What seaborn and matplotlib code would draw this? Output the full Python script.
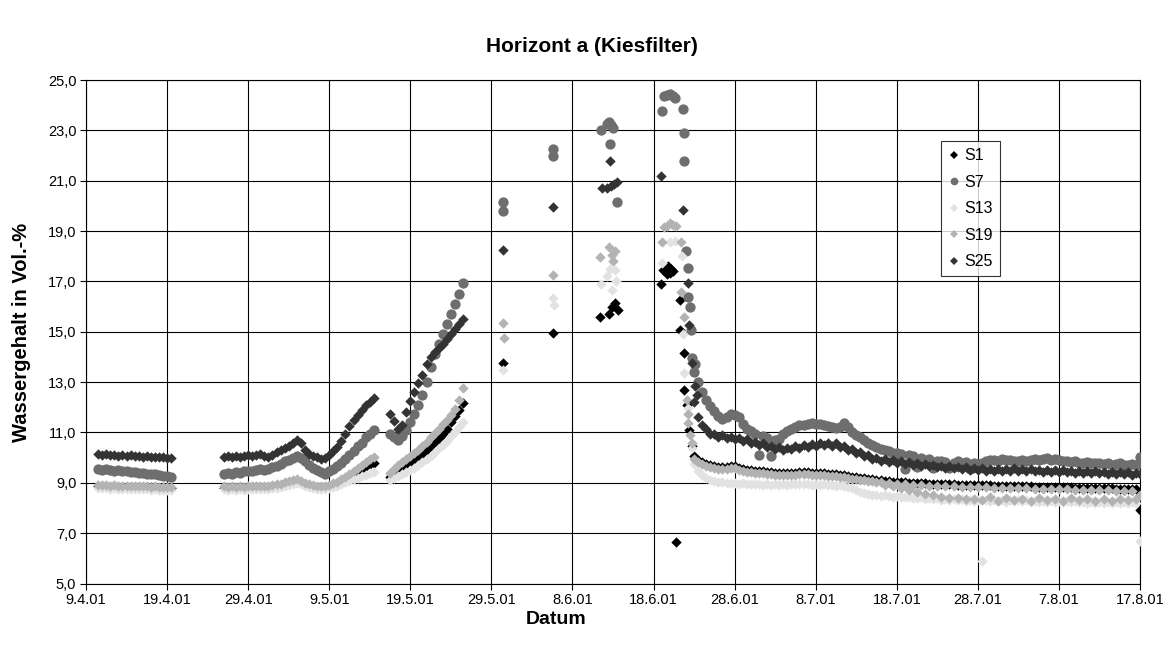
import numpy as np
import pandas as pd
import matplotlib
matplotlib.use("Agg")
import matplotlib.pyplot as plt
import matplotlib.dates as mdates
from matplotlib.lines import Line2D
from matplotlib.ticker import FuncFormatter, FixedLocator
import seaborn as sns

START = pd.Timestamp("2001-04-09")

sensors = ["S1", "S7", "S13", "S19", "S25"]
colors = {"S1": "#000000", "S7": "#6e6e6e", "S13": "#e2e2e2", "S19": "#b3b3b3", "S25": "#333333"}
markers = {"S1": "D", "S7": "o", "S13": "D", "S19": "D", "S25": "D"}
sizes = {"S1": 28, "S7": 55, "S13": 28, "S19": 28, "S25": 28}

# Logging periods: first reading (days after 9.4.01), half-day interval
start_a, start_b, start_c, start_d = 1.5, 17.0, 37.5, 75.0
step = 0.5

# --- period a: 10.4. - 19.4. ---
s1_a = [8.86, 8.85, 8.86, 8.84, 8.85, 8.83, 8.84, 8.83, 8.83, 8.82, 8.83, 8.82, 8.81, 8.82, 8.80, 8.81, 8.80, 8.80, 8.79]
s7_a = [9.55, 9.52, 9.54, 9.50, 9.48, 9.50, 9.45, 9.47, 9.42, 9.44, 9.38, 9.40, 9.36, 9.33, 9.35, 9.30, 9.28, 9.27, 9.25]
s13_a = [8.80, 8.78, 8.79, 8.77, 8.78, 8.76, 8.77, 8.75, 8.76, 8.75, 8.74, 8.76, 8.74, 8.73, 8.74, 8.72, 8.73, 8.72, 8.71]
s19_a = [8.92, 8.90, 8.91, 8.89, 8.90, 8.88, 8.89, 8.87, 8.88, 8.87, 8.86, 8.88, 8.86, 8.85, 8.87, 8.85, 8.84, 8.85, 8.84]
s25_a = [10.14, 10.12, 10.15, 10.10, 10.12, 10.08, 10.10, 10.07, 10.09, 10.05, 10.07, 10.04, 10.06, 10.03, 10.04, 10.01, 10.02, 9.99, 9.98]

# --- period b: 26.4. - 14.5. ---
s1_b = [8.80, 8.79, 8.81, 8.80, 8.81, 8.79, 8.82, 8.81, 8.83, 8.81,
        8.84, 8.83, 8.85, 8.88, 8.92, 8.96, 9.00, 9.05, 9.09, 9.03,
        8.95, 8.89, 8.85, 8.83, 8.81, 8.82, 8.87, 8.92, 8.99, 9.07,
        9.16, 9.26, 9.36, 9.46, 9.56, 9.65, 9.73, 9.80]
s7_b = [9.35, 9.38, 9.36, 9.42, 9.40, 9.46, 9.48, 9.45, 9.52, 9.55,
        9.50, 9.56, 9.62, 9.68, 9.75, 9.85, 9.92, 10.00, 10.06, 9.98,
        9.85, 9.72, 9.60, 9.52, 9.42, 9.36, 9.45, 9.55, 9.68, 9.80,
        9.95, 10.10, 10.25, 10.45, 10.60, 10.80, 10.95, 11.10]
s13_b = [8.74, 8.72, 8.75, 8.73, 8.74, 8.72, 8.75, 8.74, 8.76, 8.74,
         8.77, 8.76, 8.78, 8.81, 8.84, 8.88, 8.92, 8.96, 9.00, 8.95,
         8.88, 8.82, 8.78, 8.76, 8.74, 8.75, 8.79, 8.84, 8.89, 8.95,
         9.02, 9.08, 9.14, 9.20, 9.26, 9.32, 9.38, 9.42]
s19_b = [8.86, 8.84, 8.87, 8.85, 8.86, 8.84, 8.87, 8.86, 8.88, 8.86,
         8.89, 8.88, 8.90, 8.94, 8.97, 9.02, 9.06, 9.10, 9.14, 9.08,
         9.00, 8.94, 8.90, 8.88, 8.86, 8.87, 8.92, 8.98, 9.05, 9.14,
         9.24, 9.35, 9.46, 9.58, 9.70, 9.82, 9.93, 10.02]
s25_b = [10.02, 10.05, 10.03, 10.06, 10.04, 10.08, 10.10, 10.07, 10.12, 10.14,
         10.08, 10.04, 10.10, 10.22, 10.30, 10.38, 10.48, 10.60, 10.70, 10.58,
         10.32, 10.15, 10.06, 10.02, 9.96, 9.98, 10.10, 10.25, 10.42, 10.65,
         10.95, 11.25, 11.50, 11.70, 11.90, 12.08, 12.22, 12.35]

# --- period c: 16.5. - 25.5. ---
s1_c = [9.25, 9.35, 9.45, 9.55, 9.66, 9.78, 9.90, 10.02, 10.15, 10.30, 10.45, 10.60, 10.78, 10.95, 11.15, 11.40, 11.65, 11.90, 12.15]
s7_c = [10.95, 10.80, 10.70, 10.85, 11.10, 11.40, 11.75, 12.10, 12.50, 13.00, 13.60, 14.10, 14.50, 14.90, 15.30, 15.70, 16.10, 16.50, 16.95]
s13_c = [9.10, 9.20, 9.28, 9.35, 9.42, 9.50, 9.60, 9.70, 9.82, 9.95, 10.08, 10.22, 10.38, 10.52, 10.68, 10.85, 11.02, 11.20, 11.40]
s19_c = [9.40, 9.55, 9.70, 9.82, 9.95, 10.05, 10.18, 10.30, 10.45, 10.62, 10.80, 10.98, 11.15, 11.32, 11.50, 11.70, 11.95, 12.30, 12.75]
s25_c = [11.75, 11.45, 11.15, 11.30, 11.80, 12.25, 12.60, 12.95, 13.30, 13.70, 14.00, 14.20, 14.35, 14.50, 14.70, 14.90, 15.10, 15.30, 15.50]

# --- period d: 23.6. - 17.8. ---
s1_d = [10.05, 9.92, 9.82, 9.76, 9.72, 9.68, 9.64, 9.62, 9.64, 9.66,
        9.65, 9.60, 9.55, 9.52, 9.50, 9.48, 9.46, 9.45, 9.44, 9.42,
        9.40, 9.38, 9.38, 9.37, 9.38, 9.40, 9.42, 9.43, 9.42, 9.40,
        9.40, 9.38, 9.38, 9.36, 9.35, 9.34, 9.32, 9.30, 9.27, 9.24,
        9.22, 9.20, 9.18, 9.16, 9.14, 9.12, 9.10, 9.08, 9.07, 9.05,
        9.04, 9.03, 9.02, 9.00, 9.00, 8.99, 8.98, 8.98, 8.97, 8.96,
        8.96, 8.95, 8.95, 8.94, 8.94, 8.93, 8.93, 8.92, 8.92, 8.91,
        8.91, 8.90, 8.90, 8.90, 8.89, 8.89, 8.88, 8.88, 8.88, 8.87,
        8.87, 8.86, 8.86, 8.86, 8.85, 8.85, 8.84, 8.84, 8.84, 8.83,
        8.83, 8.82, 8.82, 8.82, 8.81, 8.81, 8.80, 8.80, 8.80, 8.79,
        8.79, 8.78, 8.78, 8.78, 8.77, 8.77, 8.76, 8.76, 8.75, 8.75, 7.92]
s7_d = [13.40, 13.00, 12.60, 12.30, 12.05, 11.85, 11.65, 11.55, 11.60, 11.72,
        11.70, 11.60, 11.35, 11.15, 11.05, 10.95, 10.10, 10.85, 10.78, 10.05,
        10.70, 10.75, 10.95, 11.05, 11.12, 11.20, 11.28, 11.30, 11.34, 11.38,
        11.35, 11.32, 11.28, 11.25, 11.20, 11.18, 11.22, 11.37, 11.20, 11.00,
        10.90, 10.80, 10.70, 10.60, 10.50, 10.42, 10.36, 10.30, 10.25, 10.20,
        10.18, 10.15, 9.55, 10.10, 10.05, 9.62, 9.98, 9.90, 9.95, 9.60,
        9.88, 9.85, 9.82, 9.58, 9.80, 9.85, 9.78, 9.82, 9.55, 9.80,
        9.75, 9.78, 9.85, 9.90, 9.92, 9.88, 9.95, 9.90, 9.92, 9.88,
        9.85, 9.90, 9.88, 9.92, 9.95, 9.90, 9.96, 9.98, 9.92, 9.95,
        9.90, 9.88, 9.85, 9.82, 9.85, 9.80, 9.78, 9.82, 9.80, 9.78,
        9.80, 9.75, 9.78, 9.72, 9.75, 9.78, 9.72, 9.70, 9.74, 9.70, 10.02]
s13_d = [9.75, 9.45, 9.30, 9.20, 9.12, 9.08, 9.05, 9.02, 9.00, 8.98,
         9.00, 8.96, 8.98, 8.95, 8.97, 8.94, 8.96, 8.93, 8.95, 8.92,
         8.94, 8.92, 8.95, 8.93, 8.96, 8.94, 8.97, 8.95, 8.96, 8.93,
         8.95, 8.92, 8.94, 8.90, 8.92, 8.88, 8.90, 8.86, 8.84, 8.78,
         8.70, 8.62, 8.58, 8.55, 8.52, 8.50, 8.48, 8.50, 8.46, 8.45,
         8.48, 8.44, 8.42, 8.45, 8.40, 8.38, 8.42, 8.36, 8.40, 8.34,
         8.38, 8.32, 8.36, 8.30, 8.35, 8.30, 8.34, 8.28, 8.32, 8.28,
         8.30, 5.90, 8.30, 8.26, 8.32, 8.28, 8.30, 8.25, 8.30, 8.27,
         8.30, 8.26, 8.30, 8.25, 8.28, 8.24, 8.28, 8.25, 8.28, 8.24,
         8.27, 8.23, 8.26, 8.22, 8.26, 8.22, 8.25, 8.21, 8.25, 8.20,
         8.24, 8.20, 8.23, 8.20, 8.22, 8.19, 8.22, 8.20, 8.22, 8.20, 6.70]
s19_d = [9.95, 9.82, 9.74, 9.68, 9.64, 9.60, 9.56, 9.54, 9.56, 9.58,
         9.57, 9.52, 9.47, 9.44, 9.42, 9.40, 9.38, 9.37, 9.36, 9.34,
         9.32, 9.30, 9.30, 9.29, 9.30, 9.32, 9.34, 9.35, 9.34, 9.32,
         9.32, 9.30, 9.30, 9.28, 9.27, 9.26, 9.24, 9.22, 9.19, 9.16,
         9.14, 9.12, 9.10, 9.08, 9.06, 9.04, 9.02, 8.92, 8.99, 8.88,
         8.96, 8.80, 8.94, 8.70, 8.92, 8.62, 8.90, 8.55, 8.89, 8.50,
         8.88, 8.45, 8.87, 8.40, 8.86, 8.38, 8.85, 8.36, 8.84, 8.35,
         8.83, 8.30, 8.82, 8.42, 8.81, 8.28, 8.80, 8.40, 8.80, 8.32,
         8.79, 8.35, 8.78, 8.28, 8.77, 8.40, 8.76, 8.30, 8.76, 8.36,
         8.75, 8.28, 8.74, 8.38, 8.73, 8.30, 8.72, 8.36, 8.72, 8.28,
         8.71, 8.34, 8.70, 8.26, 8.69, 8.36, 8.68, 8.30, 8.67, 8.35, 8.50]
s25_d = [12.20, 11.60, 11.30, 11.12, 10.92, 10.95, 10.82, 10.88, 10.76, 10.82,
         10.74, 10.78, 10.66, 10.72, 10.58, 10.64, 10.50, 10.58, 10.42, 10.48,
         10.36, 10.42, 10.30, 10.40, 10.34, 10.46, 10.38, 10.50, 10.44, 10.56,
         10.48, 10.58, 10.50, 10.60, 10.48, 10.58, 10.44, 10.48, 10.32, 10.36,
         10.18, 10.24, 10.06, 10.10, 9.96, 10.00, 9.88, 9.94, 9.84, 9.90,
         9.80, 9.86, 9.76, 9.82, 9.72, 9.78, 9.68, 9.74, 9.66, 9.72,
         9.62, 9.68, 9.60, 9.66, 9.58, 9.64, 9.56, 9.62, 9.52, 9.60,
         9.50, 9.58, 9.48, 9.56, 9.46, 9.54, 9.48, 9.56, 9.48, 9.57,
         9.47, 9.55, 9.46, 9.53, 9.46, 9.52, 9.44, 9.52, 9.43, 9.50,
         9.42, 9.49, 9.41, 9.48, 9.40, 9.47, 9.38, 9.46, 9.37, 9.45,
         9.37, 9.44, 9.35, 9.43, 9.34, 9.42, 9.33, 9.41, 9.32, 9.40, 9.33]

# --- single readings between the logging periods (day, value) ---
s1_x_days = [51.4, 57.6, 63.4, 64.5, 64.9, 65.2, 65.6, 70.9, 71.2, 71.5, 71.8, 72.1, 72.4, 71.6, 72.0,
             72.8, 73.3, 73.3, 73.7, 73.7, 74.1, 74.4, 74.7]
s1_x_vals = [13.75, 14.94, 15.57, 15.72, 15.98, 16.16, 15.86, 16.88, 17.45, 17.55, 17.62, 17.50, 17.40, 17.30, 17.35,
             6.65, 16.28, 15.06, 14.15, 12.67, 12.10, 11.10, 10.45]
s7_x_days = [51.4, 51.4, 57.6, 57.6, 63.5, 64.2, 64.5, 64.8, 65.0, 64.6, 65.5,
             71.0, 71.3, 71.7, 72.0, 72.4, 72.7, 73.6, 73.7, 73.8, 74.0, 74.2, 74.3, 74.5, 74.6, 74.7, 75.1]
s7_x_vals = [20.17, 19.80, 22.24, 22.00, 23.00, 23.25, 23.35, 23.20, 23.10, 22.45, 20.15,
             23.77, 24.35, 24.42, 24.45, 24.38, 24.30, 23.83, 22.88, 21.77, 18.20, 17.55, 16.40, 15.98, 15.06, 13.95, 13.70]
s13_x_days = [51.4, 57.6, 57.7, 63.5, 64.3, 64.6, 64.9, 65.2, 65.4, 71.0, 72.0, 72.6, 73.5, 73.6, 73.7, 74.2, 74.7]
s13_x_vals = [13.47, 16.33, 16.05, 16.90, 17.20, 17.50, 16.64, 17.45, 17.00, 17.75, 18.55, 18.60, 18.00, 14.90, 13.35, 11.96, 10.40]
s19_x_days = [51.4, 51.5, 57.6, 63.4, 64.5, 64.9, 65.3, 65.0, 71.0, 71.3, 71.6, 72.0, 72.4, 72.8,
              73.4, 73.4, 73.8, 74.1, 74.2, 74.3, 74.5, 74.7]
s19_x_vals = [15.35, 14.75, 17.24, 17.95, 18.35, 18.03, 18.20, 17.80, 18.58, 19.15, 19.22, 19.30, 19.25, 19.20,
              18.58, 16.56, 15.58, 12.30, 11.75, 11.37, 10.90, 10.57]
s25_x_days = [51.4, 57.6, 64.6, 63.6, 64.3, 64.7, 65.1, 65.5, 70.9, 73.6, 74.2, 74.4, 74.8, 75.1, 75.3]
s25_x_vals = [18.24, 19.95, 21.80, 20.72, 20.70, 20.78, 20.85, 20.95, 21.20, 19.82, 16.95, 15.26, 13.75, 12.84, 12.50]

y_ticks = [5, 7, 9, 11, 13, 15, 17, 19, 21, 23, 25]

series = {
    "S1": ([s1_a, s1_b, s1_c, s1_d], s1_x_days, s1_x_vals),
    "S7": ([s7_a, s7_b, s7_c, s7_d], s7_x_days, s7_x_vals),
    "S13": ([s13_a, s13_b, s13_c, s13_d], s13_x_days, s13_x_vals),
    "S19": ([s19_a, s19_b, s19_c, s19_d], s19_x_days, s19_x_vals),
    "S25": ([s25_a, s25_b, s25_c, s25_d], s25_x_days, s25_x_vals),
}
starts = [start_a, start_b, start_c, start_d]

frames = []
for name, (segments, xd, xv) in series.items():
    for t0, vals in zip(starts, segments):
        d = t0 + step * np.arange(len(vals))
        frames.append(pd.DataFrame({"day": d, "value": vals, "sensor": name}))
    frames.append(pd.DataFrame({"day": xd, "value": xv, "sensor": name}))
df = pd.concat(frames, ignore_index=True)
df["date"] = START + pd.to_timedelta(df["day"], unit="D")

sns.set_theme(style="white")
plt.rcParams["font.family"] = ["Liberation Sans", "DejaVu Sans"]
plt.rcParams["text.color"] = "black"
plt.rcParams["axes.labelcolor"] = "black"

W, H = 1172, 648
fig = plt.figure(figsize=(W / 100, H / 100), dpi=100)
ax = fig.add_axes([86 / W, 1 - 583.5 / H, (1140 - 86) / W, (583.5 - 80) / H])

# series drawn in legend order, later series on top
for name in sensors:
    sub = df[df["sensor"] == name]
    sns.scatterplot(data=sub, x="date", y="value", color=colors[name], marker=markers[name],
                    s=sizes[name], linewidth=0, ax=ax, legend=False, zorder=3)

end = START + pd.Timedelta(days=130)
ax.set_xlim(START, end)
ax.set_ylim(5, 25)
ax.yaxis.set_major_locator(FixedLocator(y_ticks))
ax.yaxis.set_major_formatter(FuncFormatter(lambda v, p: f"{v:.1f}".replace(".", ",")))
ticks = pd.date_range(START, end, freq="10D")
ax.set_xticks(ticks)
ax.xaxis.set_major_formatter(FuncFormatter(
    lambda v, p: (lambda d: f"{d.day}.{d.month}.{d.strftime('%y')}")(mdates.num2date(v))))

ax.grid(True, color="black", linewidth=0.8, zorder=0)
ax.set_axisbelow(True)
for sp in ax.spines.values():
    sp.set_color("black")
    sp.set_linewidth(0.8)
ax.tick_params(axis="both", direction="out", length=4, width=0.8, color="black",
               labelsize=10.5, labelcolor="black", pad=3, bottom=True, left=True)
ax.set_xlabel("")
ax.set_ylabel("")

fig.text(0.505, 1 - 47 / H, "Horizont a (Kiesfilter)", ha="center", va="center",
         fontsize=15, fontweight="bold", color="black")
fig.text(556 / W, 1 - 620 / H, "Datum", ha="center", va="center", fontsize=14,
         fontweight="bold", color="black")
fig.text(22 / W, 1 - 332 / H, "Wassergehalt in Vol.-%", ha="center", va="center",
         rotation=90, fontsize=14.5, fontweight="bold", color="black")

handles = [Line2D([], [], linestyle="none", marker=markers[n], color=colors[n],
                  markersize=(5.5 if markers[n] == "o" else 3.9), markeredgewidth=0) for n in sensors]
leg = ax.legend(handles, sensors, loc="upper left", bbox_to_anchor=(941 / W, 1 - 141 / H),
                bbox_transform=fig.transFigure, borderaxespad=0, frameon=True, fancybox=False,
                fontsize=11.5, handlelength=0.7, handletextpad=0.3, labelspacing=0.72,
                borderpad=0.45)
for t in leg.get_texts():
    t.set_color("black")
leg.get_frame().set_edgecolor("black")
leg.get_frame().set_linewidth(0.8)
leg.get_frame().set_facecolor("white")
leg.set_zorder(5)

fig.savefig("out.png", dpi=100, facecolor="white")
